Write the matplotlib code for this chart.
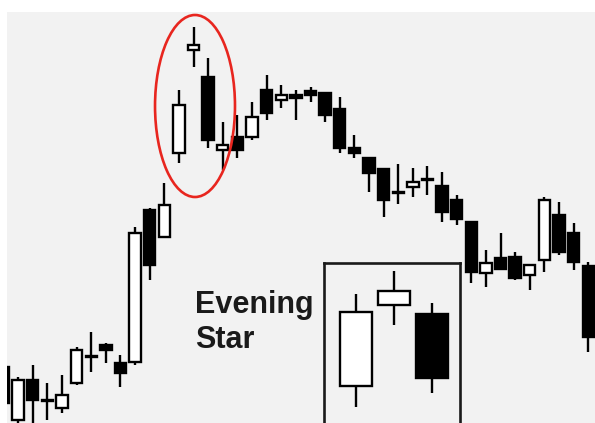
import matplotlib
matplotlib.use('Agg')
import matplotlib.pyplot as plt
from matplotlib.patches import Ellipse

# Main price series (one entry per session)
opens = [56, 3, 43, 23, 15, 40, 66, 78, 60, 61, 213, 186, 270, 373, 346, 273, 286, 286,
         333, 323, 328, 332, 330, 314, 275, 265, 254, 231, 236, 243, 237, 223, 201, 150,
         165, 166, 148, 163, 208, 190, 157]
closes = [20, 43, 23, 22, 28, 73, 66, 73, 50, 190, 158, 218, 318, 378, 283, 278, 273, 306,
          310, 328, 325, 328, 308, 275, 270, 250, 223, 230, 241, 243, 211, 204, 151, 160,
          154, 145, 158, 223, 171, 161, 86]
highs = [58, 46, 58, 40, 48, 76, 91, 80, 68, 196, 215, 240, 333, 396, 365, 301, 308, 321,
         348, 338, 333, 336, 331, 326, 288, 265, 254, 259, 255, 257, 251, 228, 201, 173,
         190, 171, 158, 226, 221, 200, 161]
lows = [15, -3, -2, 3, 10, 38, 51, 60, 36, 58, 143, 186, 260, 356, 275, 253, 265, 283,
        303, 315, 303, 321, 301, 270, 265, 231, 206, 219, 226, 228, 201, 198, 140, 136,
        153, 143, 133, 151, 168, 153, 71]

# Textbook "Evening Star" pattern shown in the inset
star_opens = [36, 118, 108]
star_closes = [110, 132, 44]
star_highs = [129, 152, 120]
star_lows = [14, 97, 29]

pattern_label = ['Evening', 'Star']

W, H = 595, 423


def draw_candles(ax, o, c, h, l, width, lw):
    for i in range(len(o)):
        ax.vlines(i, l[i], h[i], color='black', linewidth=lw, zorder=2)
        up = c[i] >= o[i]
        bottom = min(o[i], c[i])
        height = max(abs(c[i] - o[i]), 1)
        ax.bar(i, height, bottom=bottom, width=width,
               facecolor='white' if up else 'black', edgecolor='black',
               linewidth=lw, zorder=3)


fig = plt.figure(figsize=(W / 100, H / 100), dpi=100, facecolor='white')

# main chart area (bleeds off the right and bottom edges)
ax = fig.add_axes([7 / W, 0, (W - 7) / W, (H - 12) / H])
ax.set_facecolor('#f2f2f2')
draw_candles(ax, opens, closes, highs, lows, 0.78, 1.7)
ax.set_xlim(0.24, 40.46)
ax.set_ylim(0, 411)
for s in ax.spines.values():
    s.set_visible(False)
ax.set_xticks([])
ax.set_yticks([])

# red ellipse round the pattern
ax.add_patch(Ellipse((13.1, 317), 5.47, 182, fill=False, edgecolor='#e8261f',
                     linewidth=1.9, zorder=4))

# inset box with the idealised pattern
ax2 = fig.add_axes([324 / W, -0.01, (460 - 324) / W, (423 - 263) / H + 0.01])
ax2.set_facecolor('#f2f2f2')
draw_candles(ax2, star_opens, star_closes, star_highs, star_lows, 0.84, 1.7)
ax2.set_xlim(-0.84, 2.74)
ax2.set_ylim(-6, 160)
for s in ax2.spines.values():
    s.set_linewidth(1.9)
    s.set_color('#1a1a1a')
ax2.set_xticks([])
ax2.set_yticks([])

# label
fig.text(195 / W, 1 - 313 / H, pattern_label[0], fontsize=22, fontweight='bold',
         family='Liberation Sans', color='#1a1a1a', va='baseline')
fig.text(195 / W, 1 - 348 / H, pattern_label[1], fontsize=22, fontweight='bold',
         family='Liberation Sans', color='#1a1a1a', va='baseline')

fig.savefig('out.png', dpi=100, facecolor='white')
